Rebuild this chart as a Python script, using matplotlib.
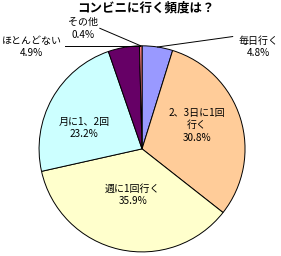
import matplotlib
matplotlib.use("Agg")
import matplotlib.pyplot as plt
import numpy as np

plt.rcParams['font.family'] = ['Noto Sans CJK JP', 'DejaVu Sans']

TITLE = "コンビニに行く頻度は？"
labels = ["毎日行く", "2、3日に1回\n行く", "週に1回行く", "月に1、2回", "ほとんどない", "その他"]
values = [4.8, 30.8, 35.9, 23.2, 4.9, 0.4]
colors = ["#9999FF", "#FFCC99", "#FFFFCC", "#CCFFFF", "#660066", "#FF8080"]

fig = plt.figure(figsize=(2.81, 2.56), dpi=100)
ax = fig.add_axes([0.139, 0.016, 0.733, 0.805])
wedges, _ = ax.pie(values, colors=colors, startangle=90, counterclock=False,
                   wedgeprops=dict(edgecolor="black", linewidth=0.7))
ax.set_xlim(-1, 1)
ax.set_ylim(-1, 1)
ax.set_aspect("auto")

fs = 7.2
# label positions (data coords) and leader line start points
text_pos = [(1.13, 0.99), (0.53, 0.23), (-0.09, -0.45), (-0.56, 0.2), (-1.07, 0.99), (-0.57, 1.17)]
leader_from = {0: (0.88, 1.09), 4: (-0.75, 1.0), 5: (-0.41, 1.17)}

for i, w in enumerate(wedges):
    ax.text(*text_pos[i], labels[i] + "\n" + f"{values[i]:.1f}%",
            ha="center", va="center", fontsize=fs, linespacing=1.3, clip_on=False)
    if i in leader_from:
        mid = np.deg2rad((w.theta1 + w.theta2) / 2)
        tip = (np.cos(mid), np.sin(mid))
        if i == 4:
            tip = (-0.02, 1.0)
        x0, y0 = leader_from[i]
        ax.plot([x0, tip[0]], [y0, tip[1]], color="black", lw=0.7, clip_on=False)

fig.text(0.52, 0.967, TITLE, ha="center", va="center", fontsize=9, fontweight="bold")
fig.savefig("out.png", dpi=100)
